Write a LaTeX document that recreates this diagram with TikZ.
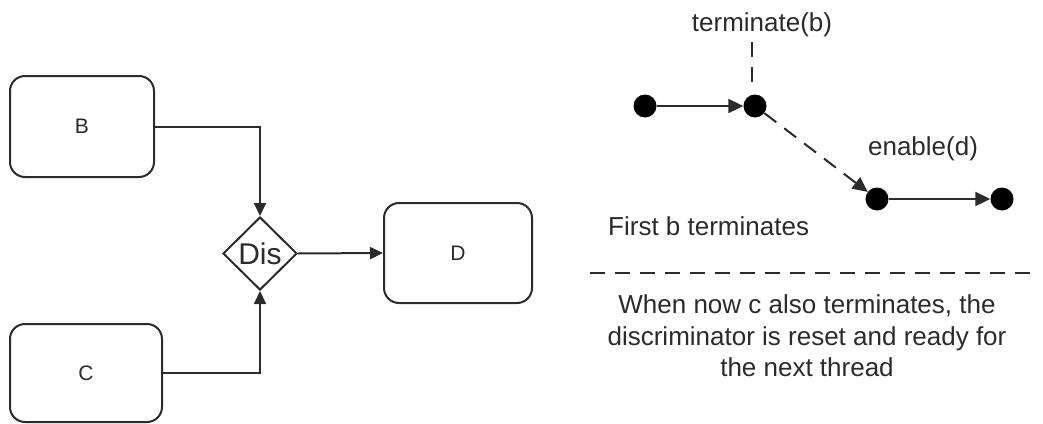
\documentclass[tikz,border=0pt]{standalone}
\usepackage{fontspec}
\setmainfont{Liberation Sans}
\usetikzlibrary{shapes.geometric,arrows.meta}
\definecolor{ink}{HTML}{2B2B2B}
\begin{document}
\begin{tikzpicture}[x=1pt,y=-1pt,
  box/.style={draw=ink, line width=2pt, rounded corners=15pt, inner sep=0pt,
    font=\fontsize{21}{24}\selectfont, text=ink},
  conn/.style={draw=ink, line width=2pt, -{Triangle[length=13pt,width=12pt]}},
  bigconn/.style={conn, -{Triangle[length=15pt,width=14pt]}},
  dot/.style={circle, fill=black, minimum size=23pt, inner sep=0pt},
  lbl/.style={font=\fontsize{26}{31.5}\selectfont, text=ink, inner sep=0pt},
  dsh/.style={dash pattern=on 15pt off 10pt}]
\useasboundingbox (0,0) rectangle (1043,423);
% left diagram
\node[box, minimum width=144pt, minimum height=101pt] (B) at (82,126.5) {B};
\node[box, minimum width=152pt, minimum height=98pt] (C) at (86,373) {C};
\node[box, minimum width=148pt, minimum height=100pt] (D) at (458,253) {D};
\node[diamond, draw=ink, line width=2pt, minimum width=74pt, minimum height=73pt,
  inner sep=0pt, font=\fontsize{30}{32}\selectfont, text=ink] (Dis) at (260,253.5) {Dis};
\draw[conn] (B.east) -| (Dis.north);
\draw[conn] (C.east) -| (Dis.south);
\draw[conn] (Dis.east) -- (D.west);
% right diagram
\node[dot] (p1) at (645,106) {};
\node[dot] (p2) at (755,106) {};
\node[dot] (p3) at (877,199) {};
\node[dot] (p4) at (1002,199) {};
\draw[bigconn] (p1) -- (p2);
\draw[bigconn, dsh] (p2) -- (p3);
\draw[bigconn] (p3) -- (p4);
\node[lbl] (tb) at (762,25) {terminate(b)};
\coordinate (tbend) at (752,82);
\draw[ink, line width=2pt, dsh] (tb.south -| tbend) ++(0,5) -- (tbend);
\node[lbl] (en) at (923,149) {enable(d)};
\node[lbl, anchor=west] (fb) at (608,226) {First b terminates};
\coordinate (sepL) at (590,273);
\coordinate (sepR) at (1038,273);
\draw[ink, line width=2pt, dsh] (sepL) -- (sepR);
\node[lbl, align=center] (note) at (807,336) {When now c also terminates, the\\discriminator is reset and ready for\\the next thread};
\end{tikzpicture}
\end{document}
